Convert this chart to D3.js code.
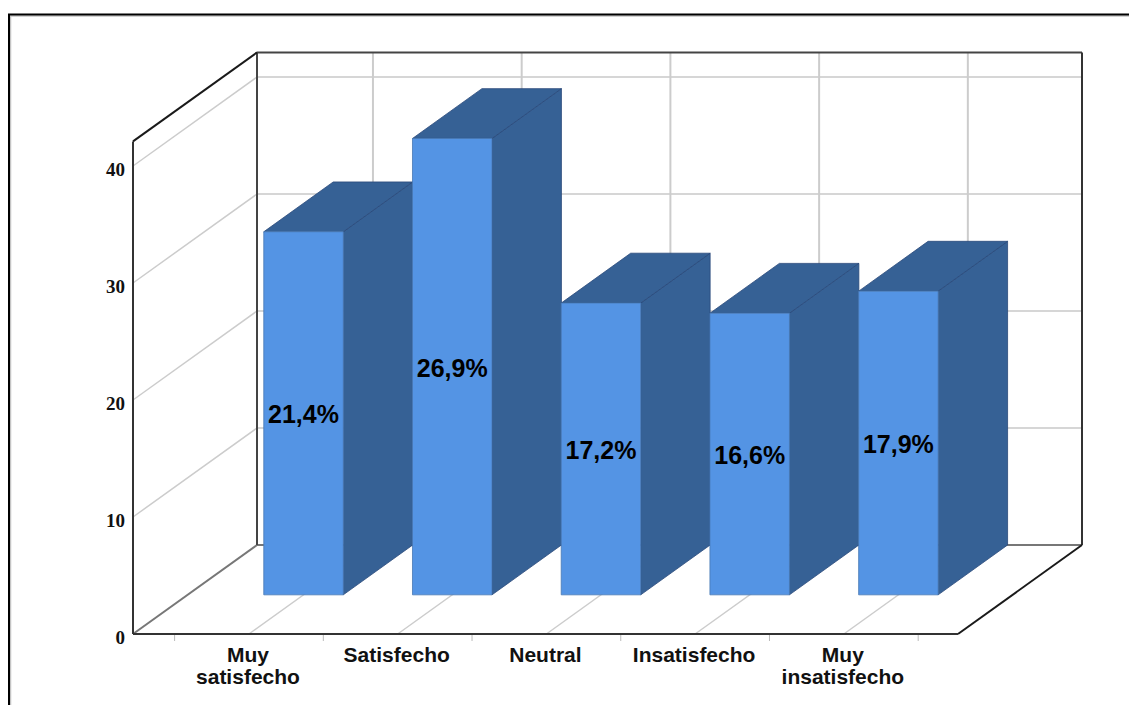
<!DOCTYPE html>
<html>
<head>
<meta charset="utf-8">
<style>
  html, body { margin: 0; padding: 0; background: #fff; overflow: hidden; }
  svg { display: block; }
  .cat text { font-family: "Liberation Sans", Arial, sans-serif; font-size: 21px; font-weight: 700; fill: #111; }
  .val text { font-family: "Liberation Serif", "Times New Roman", serif; font-size: 19px; font-weight: 700; fill: #111; }
  .pct { font-family: "Liberation Sans", Arial, sans-serif; font-size: 25px; font-weight: 700; fill: #000; text-anchor: middle; }
</style>
<script src="https://cdn.jsdelivr.net/npm/d3@7/dist/d3.min.js"></script>
</head>
<body>
<svg id="chart" width="1129" height="705"></svg>
<script>
// Satisfaction survey: share of respondents per answer, drawn as 3D bars.
const categories = [["Muy", "satisfecho"], ["Satisfecho"], ["Neutral"], ["Insatisfecho"], ["Muy", "insatisfecho"]];
const percentages = [21.4, 26.9, 17.2, 16.6, 17.9];
const respondents = 145;
const valueTicks = [0, 10, 20, 30, 40];

const svg = d3.select("#chart");

// Plot box: front plane, plus the shift applied to reach the back wall.
const depth = { dx: 124, dy: -89 };
const frontLeft = 133, frontRight = 958;
const y = d3.scaleLinear().domain([0, 40]).range([634, 166]);
const yMax = 42.1;
const x = d3.scaleBand().domain(d3.range(categories.length)).range([174.6, 918.2]);
const mid = i => x(i) + x.bandwidth() / 2;

// Maps a front-plane point to its position at depth z (0 = front, 1 = back wall).
const at = (px, v, z) => [px + z * depth.dx, y(v) + z * depth.dy];
const line = d3.line();

function seg(a, b, color, width) {
  svg.append("path").attr("d", line([a, b])).attr("fill", "none")
    .attr("stroke", color).attr("stroke-width", width);
}

// Page frame
svg.append("path").attr("d", "M10.5,705V16H1129").attr("fill", "none").attr("stroke", "#c4c4c4").attr("stroke-width", 1.5);
svg.append("path").attr("d", "M9,705V14.5H1129").attr("fill", "none").attr("stroke", "#000").attr("stroke-width", 2);

// Horizontal gridlines on the left and back walls
valueTicks.filter(v => v > 0).forEach(v => {
  seg(at(frontLeft, v, 0), at(frontLeft, v, 1), "#cccccc", 1.5);
  seg(at(frontLeft, v, 1), at(frontRight, v, 1), "#d6d6d6", 2);
});

// Vertical gridlines on the back wall and matching lines across the floor
d3.range(categories.length).forEach(i => {
  seg(at(mid(i), 0, 0), at(mid(i), 0, 1), "#cccccc", 1.5);
  seg(at(mid(i), 0, 1), at(mid(i), yMax, 1), "#cccccc", 2);
});

// Plot box outline
seg(at(frontLeft, 0, 0), at(frontLeft, 0, 1), "#777777", 2);
seg(at(frontLeft, 0, 1), at(frontRight, 0, 1), "#777777", 2);
seg(at(frontLeft, 0, 1), at(frontLeft, yMax, 1), "#444444", 2);
seg(at(frontLeft, yMax, 1), at(frontRight, yMax, 1), "#444444", 2);
seg(at(frontRight, 0, 1), at(frontRight, yMax, 1), "#333333", 2);
seg(at(frontLeft, 0, 0), at(frontLeft, yMax, 0), "#333333", 2);
seg(at(frontLeft, yMax, 0), at(frontLeft, yMax, 1), "#1a1a1a", 2);
seg(at(frontRight, 0, 0), at(frontRight, 0, 1), "#1a1a1a", 2);

// Bars: side, top and front faces
const zFront = 0.44, zBack = 1;
const barWidth = 79.5;
const frontColor = "#5494e4", shadeColor = "#366195";
const counts = percentages.map(p => p * respondents / 100);

const bars = svg.append("g").selectAll("g").data(counts).join("g");
const poly = pts => line(pts) + "Z";
const corners = (d, i) => ({ l: mid(i) - barWidth / 2, r: mid(i) + barWidth / 2, v: d });

bars.append("path").attr("fill", shadeColor).attr("stroke", "#29497a").attr("stroke-width", 0.8)
  .attr("d", (d, i) => {
    const c = corners(d, i);
    return poly([at(c.r, c.v, zFront), at(c.r, c.v, zBack), at(c.r, 0, zBack), at(c.r, 0, zFront)]);
  });
bars.append("path").attr("fill", shadeColor).attr("stroke", "#29497a").attr("stroke-width", 0.8)
  .attr("d", (d, i) => {
    const c = corners(d, i);
    return poly([at(c.l, c.v, zFront), at(c.l, c.v, zBack), at(c.r, c.v, zBack), at(c.r, c.v, zFront)]);
  });
bars.append("path").attr("fill", frontColor).attr("stroke", "#4878b4").attr("stroke-width", 0.8)
  .attr("d", (d, i) => {
    const c = corners(d, i);
    return poly([at(c.l, c.v, zFront), at(c.r, c.v, zFront), at(c.r, 0, zFront), at(c.l, 0, zFront)]);
  });

// Percentage labels centred on each front face
bars.append("text").attr("class", "pct")
  .attr("x", (d, i) => at(mid(i), 0, zFront)[0])
  .attr("y", d => at(0, d / 2, zFront)[1] + 10)
  .text((d, i) => percentages[i].toFixed(1).replace(".", ",") + "%");

// Front frame line drawn over the floor lines
seg([frontLeft, y(0)], [frontRight, y(0)], "#333333", 2);

// Value axis
svg.append("g").attr("class", "val").attr("transform", `translate(${frontLeft},0)`)
  .call(d3.axisLeft(y).tickValues(valueTicks).tickFormat(d3.format("d")).tickSize(0).tickPadding(8))
  .call(g => g.select(".domain").remove())
  .call(g => g.selectAll("text").attr("dy", "0.5em"));

// Category axis: tick marks at band edges, wrapped labels under band centres
const edges = x.domain().map(i => x(i)).concat([x.range()[1]]);
svg.append("g").selectAll("line").data(edges).join("line")
  .attr("x1", d => d).attr("x2", d => d)
  .attr("y1", y(0) + 1).attr("y2", y(0) + 7)
  .attr("stroke", "#bbbbbb").attr("stroke-width", 1);

const catAxis = svg.append("g").attr("class", "cat").attr("transform", `translate(-1,${y(0)})`)
  .call(d3.axisBottom(x).tickSize(0).tickFormat(() => ""));
catAxis.select(".domain").remove();
catAxis.selectAll(".tick text").each(function (i) {
  const t = d3.select(this).attr("y", 0).attr("dy", null).text(null);
  categories[i].forEach((word, k) => {
    t.append("tspan").attr("x", 0).attr("y", 28 + k * 21.5).text(word);
  });
});
</script>
</body>
</html>
